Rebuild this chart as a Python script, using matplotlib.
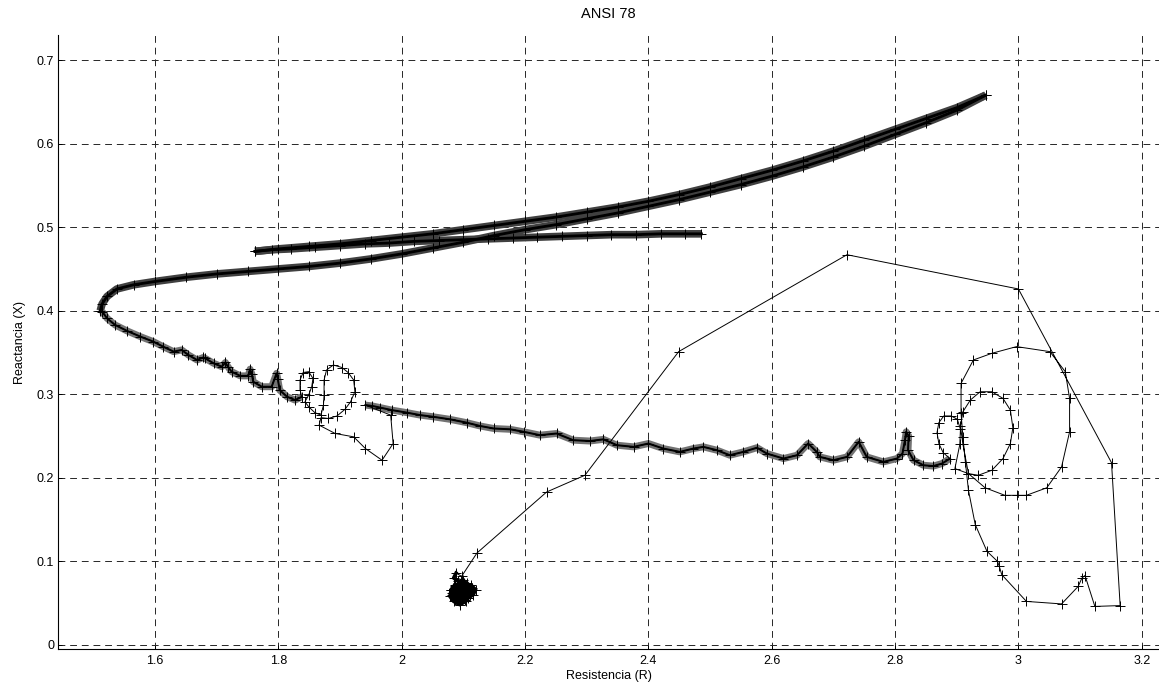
import matplotlib
matplotlib.use('Agg')
import matplotlib.pyplot as plt
import numpy as np

# impedance trajectory R (resistencia) / X (reactancia)
# pre-fault drift to the left
r_load = [2.486, 2.46, 2.42, 2.38, 2.34, 2.30, 2.26, 2.22, 2.18, 2.14, 2.10, 2.06, 2.02,
          1.98, 1.94, 1.90, 1.86, 1.82, 1.79, 1.762]
x_load = [0.492, 0.492, 0.492, 0.491, 0.491, 0.490, 0.489, 0.488, 0.487, 0.486, 0.485, 0.484,
          0.483, 0.481, 0.480, 0.478, 0.476, 0.474, 0.473, 0.471]

# going up to the far end
r_up = [1.762, 1.80, 1.85, 1.90, 1.95, 2.00, 2.05, 2.10, 2.15, 2.20, 2.25, 2.30, 2.35, 2.40,
        2.45, 2.50, 2.55, 2.60, 2.65, 2.70, 2.75, 2.80, 2.85, 2.90, 2.947]
x_up = [0.471, 0.474, 0.477, 0.480, 0.484, 0.488, 0.492, 0.497, 0.502, 0.507, 0.512, 0.518,
        0.524, 0.531, 0.539, 0.548, 0.558, 0.568, 0.579, 0.591, 0.604, 0.617, 0.630, 0.643, 0.658]

# coming back to the nose
r_back = [2.947, 2.90, 2.85, 2.80, 2.75, 2.70, 2.65, 2.60, 2.55, 2.50, 2.45, 2.40, 2.35, 2.30,
          2.25, 2.20, 2.15, 2.10, 2.05, 2.00, 1.95, 1.90, 1.85, 1.80, 1.75, 1.70, 1.65, 1.60,
          1.565, 1.538, 1.522, 1.514, 1.511]
x_back = [0.658, 0.640, 0.625, 0.611, 0.597, 0.584, 0.572, 0.561, 0.551, 0.542, 0.533, 0.525,
          0.517, 0.510, 0.503, 0.497, 0.490, 0.482, 0.475, 0.468, 0.462, 0.457, 0.453, 0.450,
          0.447, 0.444, 0.440, 0.435, 0.431, 0.426, 0.417, 0.408, 0.400]

# descent after the nose
r_down = [1.514, 1.522, 1.535, 1.554, 1.576, 1.597, 1.613, 1.630, 1.643, 1.654, 1.668, 1.678,
          1.681, 1.695, 1.708, 1.714, 1.718, 1.724, 1.738, 1.751, 1.754, 1.757, 1.759, 1.773,
          1.789, 1.797, 1.799, 1.802, 1.814, 1.827, 1.838]
x_down = [0.399, 0.391, 0.383, 0.376, 0.369, 0.363, 0.357, 0.351, 0.353, 0.347, 0.341, 0.344,
          0.343, 0.337, 0.333, 0.338, 0.333, 0.327, 0.322, 0.322, 0.330, 0.324, 0.315, 0.309,
          0.309, 0.325, 0.318, 0.305, 0.297, 0.293, 0.297]

# small loops near R=1.85
r_loop = [1.835, 1.835, 1.840, 1.849, 1.856, 1.854, 1.849, 1.843, 1.849, 1.859, 1.869, 1.873,
          1.874, 1.874, 1.878, 1.889, 1.903, 1.913, 1.922, 1.924, 1.917, 1.908, 1.895, 1.881,
          1.869, 1.866, 1.892, 1.922, 1.941, 1.968, 1.986, 1.982]
x_loop = [0.305, 0.317, 0.326, 0.327, 0.319, 0.309, 0.299, 0.291, 0.285, 0.278, 0.275, 0.287,
          0.299, 0.317, 0.329, 0.335, 0.332, 0.326, 0.317, 0.303, 0.291, 0.282, 0.274, 0.271,
          0.272, 0.263, 0.253, 0.249, 0.235, 0.221, 0.241, 0.275]

# oscillating swing to the right
r_swing = [1.941, 1.952, 1.965, 1.984, 2.008, 2.030, 2.051, 2.078, 2.105, 2.127, 2.149, 2.176,
           2.198, 2.224, 2.251, 2.278, 2.305, 2.327, 2.349, 2.376, 2.400, 2.424, 2.451, 2.473,
           2.489, 2.511, 2.532, 2.554, 2.576, 2.592, 2.619, 2.641, 2.659, 2.673, 2.678, 2.700,
           2.722, 2.741, 2.754, 2.781, 2.803, 2.812, 2.816, 2.818, 2.822, 2.821, 2.830, 2.846,
           2.862, 2.876, 2.889]
x_swing = [0.287, 0.286, 0.284, 0.281, 0.278, 0.275, 0.273, 0.270, 0.266, 0.262, 0.259, 0.258,
           0.255, 0.251, 0.253, 0.245, 0.244, 0.246, 0.239, 0.237, 0.241, 0.235, 0.231, 0.235,
           0.237, 0.233, 0.227, 0.231, 0.236, 0.229, 0.223, 0.227, 0.241, 0.231, 0.225, 0.221,
           0.225, 0.243, 0.225, 0.219, 0.223, 0.229, 0.245, 0.255, 0.250, 0.233, 0.221, 0.215,
           0.214, 0.217, 0.223]

# spirals near R=3
r_spiral = [2.878, 2.871, 2.868, 2.871, 2.879, 2.891, 2.901, 2.906, 2.905, 2.897, 2.919, 2.935,
            2.957, 2.975, 2.987, 2.991, 2.987, 2.975, 2.957, 2.938, 2.922, 2.910, 2.906, 2.910,
            2.919, 2.946, 2.978, 2.997, 3.013, 3.046, 3.070, 3.083, 3.083, 3.076, 3.051, 2.997,
            2.957, 2.927, 2.907, 2.907, 2.910, 2.914, 2.919, 2.930, 2.949, 2.966, 2.969, 2.973,
            3.013, 3.070, 3.097, 3.103, 3.108, 3.124, 3.165]
x_spiral = [0.230, 0.241, 0.254, 0.266, 0.274, 0.274, 0.270, 0.258, 0.240, 0.211, 0.205, 0.203,
            0.209, 0.223, 0.241, 0.260, 0.281, 0.295, 0.303, 0.303, 0.293, 0.279, 0.262, 0.240,
            0.205, 0.188, 0.179, 0.179, 0.179, 0.188, 0.213, 0.255, 0.295, 0.327, 0.351, 0.357,
            0.349, 0.341, 0.313, 0.277, 0.249, 0.219, 0.185, 0.144, 0.112, 0.100, 0.094, 0.084,
            0.052, 0.049, 0.070, 0.080, 0.083, 0.046, 0.047]

# fast excursion back to the left
r_exit = [3.151, 3.000, 2.722, 2.449, 2.297, 2.235, 2.122, 2.097]
x_exit = [0.218, 0.426, 0.467, 0.351, 0.203, 0.183, 0.110, 0.082]

# final settling point
r_end = [2.088, 2.084, 2.092, 2.100, 2.104, 2.096, 2.086, 2.080, 2.078, 2.084, 2.094, 2.104,
         2.110, 2.114, 2.106, 2.096, 2.088, 2.082, 2.080, 2.086, 2.098, 2.108, 2.116, 2.120,
         2.112, 2.100, 2.090, 2.084, 2.088, 2.098, 2.106, 2.102, 2.094, 2.090, 2.096, 2.100,
         2.092, 2.086, 2.082, 2.086, 2.094, 2.102, 2.108, 2.104, 2.096, 2.090, 2.084, 2.088,
         2.096, 2.102, 2.098, 2.092, 2.088, 2.094, 2.100, 2.096, 2.092]
x_end = [0.086, 0.080, 0.076, 0.078, 0.070, 0.066, 0.072, 0.066, 0.058, 0.052, 0.048, 0.052,
         0.060, 0.068, 0.074, 0.072, 0.064, 0.060, 0.066, 0.070, 0.062, 0.056, 0.060, 0.066,
         0.072, 0.060, 0.054, 0.058, 0.064, 0.068, 0.064, 0.058, 0.056, 0.062, 0.066, 0.062,
         0.074, 0.068, 0.062, 0.054, 0.050, 0.054, 0.064, 0.070, 0.076, 0.070, 0.062, 0.056,
         0.054, 0.060, 0.068, 0.070, 0.064, 0.058, 0.060, 0.066, 0.062]

plt.rcParams['font.family'] = ['Liberation Sans', 'DejaVu Sans']

fig = plt.figure(figsize=(11.59, 6.92), dpi=100)
ax = fig.add_axes([0.0503, 0.0621, 0.9497, 0.8873])

# dense (slow) parts: markers are packed so tightly they form a band
for rr, xx in [(r_load, x_load), (r_up, x_up), (r_back, x_back)]:
    ax.plot(rr, xx, '-', color='0.25', lw=5.5, solid_capstyle='butt', zorder=2)
    ax.plot(rr, xx, '-', color='k', lw=2.0, zorder=3)
for rr, xx in [(r_down, x_down), (r_swing, x_swing)]:
    ax.plot(rr, xx, '-', color='0.45', lw=5, solid_capstyle='butt', zorder=2)
    ax.plot(rr, xx, '-', color='k', lw=1.4, zorder=3)
ax.plot(r_end, x_end, '-', color='k', lw=2.5, zorder=3)

r_all = r_load + r_up + r_back + r_down + r_loop + r_swing + r_spiral + r_exit + r_end
x_all = x_load + x_up + x_back + x_down + x_loop + x_swing + x_spiral + x_exit + x_end
ax.plot(r_all, x_all, 'k-', marker='+', ms=7, mew=0.7, lw=0.7, zorder=4)

ax.set_xlim(1.443, 3.228)
ax.set_ylim(-0.005, 0.730)
ax.set_xticks(np.arange(1.6, 3.21, 0.2))
ax.set_xticklabels(['1.6', '1.8', '2', '2.2', '2.4', '2.6', '2.8', '3', '3.2'])
ax.set_yticks(np.arange(0, 0.71, 0.1))
ax.set_yticklabels(['0', '0.1', '0.2', '0.3', '0.4', '0.5', '0.6', '0.7'])
ax.tick_params(direction='in', length=3, width=0.7, labelsize=9, pad=3)
ax.tick_params(axis='x', pad=4.5)

ax.spines['top'].set_visible(False)
ax.spines['right'].set_visible(False)
ax.spines['left'].set_linewidth(0.8)
ax.spines['bottom'].set_linewidth(0.8)

ax.grid(True, color='0.15', lw=0.7, linestyle=(0, (7, 5)))
ax.set_axisbelow(True)

ax.set_title('ANSI 78', fontsize=10.5, pad=12)
ax.set_xlabel('Resistencia (R)', fontsize=9, labelpad=2)
ax.set_ylabel('Reactancia (X)', fontsize=9, labelpad=7.5)

fig.savefig('out.png', dpi=100)
